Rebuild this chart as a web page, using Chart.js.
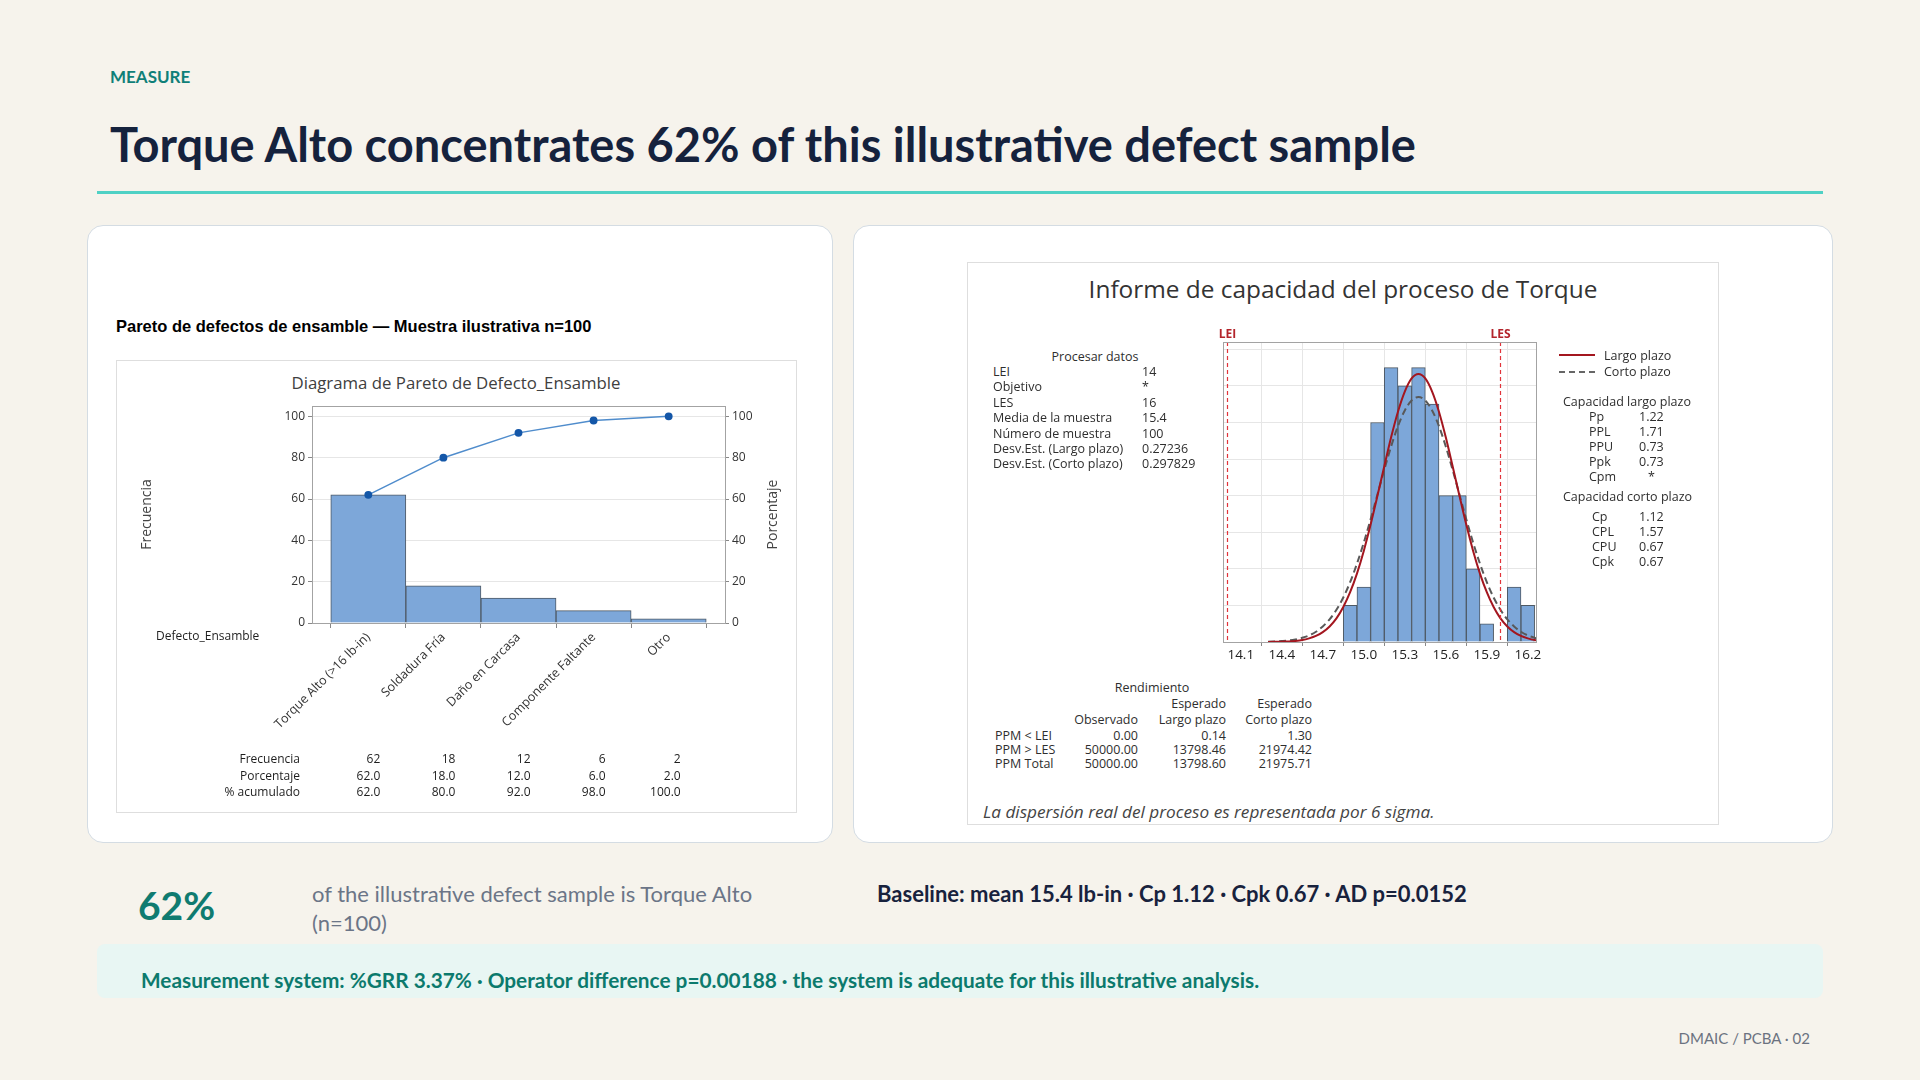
<!DOCTYPE html>
<html>
<head>
<meta charset="utf-8">
<script src="https://cdn.jsdelivr.net/npm/chart.js@4.4.1/dist/chart.umd.min.js"></script>
<style>
  body { margin: 0; width: 1920px; height: 1080px; background: #f6f3ec; position: relative; overflow: hidden; font-family: Lato, sans-serif; }
  .abs { position: absolute; white-space: nowrap; }
  .card { position: absolute; background: #fff; border: 1.5px solid #d4dce3; border-radius: 16px; box-sizing: border-box; }
  .frame { position: absolute; background: #fff; border: 1px solid #dedede; box-sizing: border-box; }
  .mt { font-family: "Open Sans", sans-serif; font-size: 12.5px; color: #2e2e2e; line-height: 16px; }
</style>
</head>
<body>

<div class="abs" style="left:110px;top:66px;font-size:17px;font-weight:700;color:#0f7f78;line-height:22px;">MEASURE</div>
<div class="abs" style="left:110px;top:116px;font-size:47px;font-weight:700;color:#15223d;line-height:56px;">Torque Alto concentrates 62% of this illustrative defect sample</div>
<div class="abs" style="left:97px;top:191px;width:1726px;height:3px;background:#4fd1c5;"></div>

<div class="card" style="left:87px;top:225px;width:746px;height:618px;"></div>
<div class="card" style="left:853px;top:225px;width:980px;height:618px;"></div>

<div class="abs" style="left:116px;top:315px;font-family:'Liberation Sans',Arial,sans-serif;font-size:16.5px;font-weight:700;color:#000;line-height:22px;">Pareto de defectos de ensamble — Muestra ilustrativa n=100</div>

<div class="frame" style="left:116px;top:360px;width:681px;height:453px;"></div>
<div class="abs" style="left:456px;top:372px;transform:translateX(-50%);font-family:'Open Sans',sans-serif;font-size:16.8px;color:#404040;line-height:22px;">Diagrama de Pareto de Defecto_Ensamble</div>
<canvas id="pareto" width="681" height="453" style="position:absolute;left:116px;top:360px;width:681px;height:453px;"></canvas>

<div class="frame" style="left:967px;top:262px;width:752px;height:563px;"></div>
<div class="abs" style="left:1343px;top:274px;transform:translateX(-50%);font-family:'Open Sans',sans-serif;font-size:24.4px;color:#333;line-height:30px;">Informe de capacidad del proceso de Torque</div>
<canvas id="hist" width="370" height="360" style="position:absolute;left:1190px;top:320px;width:370px;height:360px;"></canvas>
<div id="mtText"></div>

<div class="abs" style="left:138px;top:881px;font-size:39px;font-weight:700;color:#0f7b70;line-height:48px;">62%</div>
<div class="abs" style="left:312px;top:879px;width:490px;white-space:normal;font-size:22px;color:#6b7587;line-height:29px;">of the illustrative defect sample is Torque Alto (n=100)</div>
<div class="abs" style="left:877px;top:879px;font-size:22px;font-weight:700;color:#18223d;line-height:29px;">Baseline: mean 15.4 lb-in · Cp 1.12 · Cpk 0.67 · AD p=0.0152</div>

<div class="abs" style="left:97px;top:944px;width:1726px;height:54px;background:#e8f6f3;border-radius:8px;"></div>
<div class="abs" style="left:141px;top:966px;font-size:20.8px;font-weight:700;color:#0c7a6d;line-height:28px;">Measurement system: %GRR 3.37% · Operator difference p=0.00188 · the system is adequate for this illustrative analysis.</div>

<div class="abs" style="right:110px;top:1029px;font-size:15px;color:#6b7280;line-height:18px;">DMAIC / PCBA · 02</div>

<script>
// Pareto data
const defectos = ['Torque Alto (>16 lb-in)', 'Soldadura Fría', 'Daño en Carcasa', 'Componente Faltante', 'Otro'];
const frecuencia = [62, 18, 12, 6, 2];
const porcentaje = [62.0, 18.0, 12.0, 6.0, 2.0];
const acumulado = [62.0, 80.0, 92.0, 98.0, 100.0];
const paretoTicks = [0, 20, 40, 60, 80, 100];

// Capability histogram data (bin centres, counts)
const binCentros = [14.9, 15.0, 15.1, 15.2, 15.3, 15.4, 15.5, 15.6, 15.7, 15.8, 15.9, 16.0, 16.1, 16.2];
const binConteos = [2, 3, 12, 15, 14, 15, 13, 8, 8, 4, 1, 0, 3, 2];
const histTicks = [14.1, 14.4, 14.7, 15.0, 15.3, 15.6, 15.9, 16.2];
const histGrid = [0, 2, 4, 6, 8, 10, 12, 14, 16];
const limites = [{ label: 'LEI', value: 14 }, { label: 'LES', value: 16 }];

// fitted curves
const curvaX = [14.30, 14.35, 14.40, 14.45, 14.50, 14.55, 14.60, 14.65, 14.70, 14.75, 14.80, 14.85, 14.90, 14.95, 15.00, 15.05, 15.10, 15.15, 15.20, 15.25, 15.30, 15.35, 15.40,
  15.45, 15.50, 15.55, 15.60, 15.65, 15.70, 15.75, 15.80, 15.85, 15.90, 15.95, 16.00, 16.05, 16.10, 16.15, 16.20, 16.25, 16.30];
const largoPlazo = [0.00, 0.01, 0.02, 0.03, 0.06, 0.11, 0.20, 0.33, 0.54, 0.85, 1.29, 1.91, 2.72, 3.74, 4.98, 6.42, 7.99, 9.61, 11.19, 12.59, 13.69, 14.41, 14.65,
  14.41, 13.69, 12.59, 11.19, 9.61, 7.99, 6.42, 4.98, 3.74, 2.72, 1.91, 1.29, 0.85, 0.54, 0.33, 0.20, 0.11, 0.06];
const cortoPlazo = [0.01, 0.03, 0.05, 0.08, 0.14, 0.23, 0.36, 0.56, 0.85, 1.24, 1.76, 2.43, 3.27, 4.28, 5.43, 6.71, 8.06, 9.41, 10.69, 11.80, 12.66, 13.20, 13.39,
  13.20, 12.66, 11.80, 10.69, 9.41, 8.06, 6.71, 5.43, 4.28, 3.27, 2.43, 1.76, 1.24, 0.85, 0.56, 0.36, 0.23, 0.14];

// report text tables
const procLabels = ['LEI', 'Objetivo', 'LES', 'Media de la muestra', 'Número de muestra', 'Desv.Est. (Largo plazo)', 'Desv.Est. (Corto plazo)'];
const procValues = ['14', '*', '16', '15.4', '100', '0.27236', '0.297829'];
const ltLabels = ['Pp', 'PPL', 'PPU', 'Ppk', 'Cpm'];
const ltValues = ['1.22', '1.71', '0.73', '0.73', '*'];
const stLabels = ['Cp', 'CPL', 'CPU', 'Cpk'];
const stValues = ['1.12', '1.57', '0.67', '0.67'];
const yieldLabels = ['PPM < LEI', 'PPM > LES', 'PPM Total'];
const yieldObs = ['0.00', '50000.00', '50000.00'];
const yieldLargo = ['0.14', '13798.46', '13798.60'];
const yieldCorto = ['1.30', '21974.42', '21975.71'];

const MT_FONT = '"Open Sans", sans-serif';

const mt = document.getElementById('mtText');
function put(text, x, cy, align, extra) {
  const d = document.createElement('div');
  d.className = 'abs mt';
  d.textContent = text;
  d.style.top = (cy - 8) + 'px';
  if (align === 'r') d.style.right = (1920 - x) + 'px';
  else d.style.left = x + 'px';
  if (align === 'c') d.style.transform = 'translateX(-50%)';
  if (extra) Object.assign(d.style, extra);
  mt.appendChild(d);
}

put('Procesar datos', 1095, 357, 'c');
procLabels.forEach((t, i) => {
  put(t, 993, 372 + i * 15.4);
  put(procValues[i], 1142, 372 + i * 15.4);
});

// legend of the two fits
const l1 = document.createElement('div');
l1.className = 'abs';
Object.assign(l1.style, { left: '1559px', top: '354px', width: '36px', borderTop: '2px solid #a3161f' });
mt.appendChild(l1);
const l2 = document.createElement('div');
l2.className = 'abs';
Object.assign(l2.style, { left: '1559px', top: '371px', width: '36px', borderTop: '2px dashed #666' });
mt.appendChild(l2);
put('Largo plazo', 1604, 356);
put('Corto plazo', 1604, 372);

put('Capacidad largo plazo', 1563, 402);
ltLabels.forEach((t, i) => {
  put(t, 1589, 417 + i * 15);
  put(ltValues[i], ltValues[i] === '*' ? 1648 : 1639, 417 + i * 15);
});
put('Capacidad corto plazo', 1563, 497);
stLabels.forEach((t, i) => {
  put(t, 1592, 517 + i * 15);
  put(stValues[i], 1639, 517 + i * 15);
});

put('Rendimiento', 1152, 688, 'c');
put('Esperado', 1226, 704, 'r');
put('Esperado', 1312, 704, 'r');
put('Observado', 1138, 720, 'r');
put('Largo plazo', 1226, 720, 'r');
put('Corto plazo', 1312, 720, 'r');
yieldLabels.forEach((t, i) => {
  const y = 735.5 + i * 14.4;
  put(t, 995, y);
  put(yieldObs[i], 1138, y, 'r');
  put(yieldLargo[i], 1226, y, 'r');
  put(yieldCorto[i], 1312, y, 'r');
});
put('La dispersión real del proceso es representada por 6 sigma.', 983, 812, 'l', { fontSize: '17.2px', fontStyle: 'italic', color: '#444', lineHeight: '16px' });

// plot frame
const boxPlugin = {
  id: 'box',
  afterDraw(chart) {
    const { ctx, chartArea: a } = chart;
    ctx.save();
    ctx.strokeStyle = '#a3a3a3';
    ctx.lineWidth = 1;
    ctx.strokeRect(Math.round(a.left) + 0.5, Math.round(a.top) + 0.5, Math.round(a.right - a.left), Math.round(a.bottom - a.top));
    ctx.restore();
  }
};

// frequency table under pareto, plus the side labels
const tablePlugin = {
  id: 'paretoTable',
  afterDraw(chart) {
    const { ctx, chartArea: a } = chart;
    const x = chart.scales.x;
    const rows = [
      ['Frecuencia', frecuencia.map(v => String(v))],
      ['Porcentaje', porcentaje.map(v => v.toFixed(1))],
      ['% acumulado', acumulado.map(v => v.toFixed(1))]
    ];
    ctx.save();
    ctx.font = '12px ' + MT_FONT;
    ctx.fillStyle = '#1e1e1e';
    ctx.textBaseline = 'middle';
    rows.forEach((row, r) => {
      const y = 400 + r * 16.5;
      ctx.textAlign = 'right';
      ctx.fillText(row[0], 184, y);
      row[1].forEach((v, i) => ctx.fillText(v, x.getPixelForValue(i) + 12, y));
    });
    ctx.textAlign = 'left';
    ctx.fillText('Defecto_Ensamble', 40, 277);
    // right axis title reads bottom-to-top like the left one
    ctx.font = '14px ' + MT_FONT;
    ctx.fillStyle = '#444';
    ctx.textAlign = 'center';
    ctx.translate(657, (a.top + a.bottom) / 2);
    ctx.rotate(-Math.PI / 2);
    ctx.fillText('Porcentaje', 0, 0);
    ctx.restore();
  }
};

new Chart(document.getElementById('pareto'), {
  type: 'bar',
  data: {
    datasets: [
      {
        type: 'line',
        label: '% acumulado',
        data: acumulado.map((v, i) => ({ x: i, y: v })),
        yAxisID: 'yPct',
        borderColor: '#4f8ccc',
        borderWidth: 1.5,
        pointBackgroundColor: '#1457a8',
        pointBorderColor: '#1457a8',
        pointRadius: 3.2,
        order: 1
      },
      {
        label: 'Frecuencia',
        data: frecuencia.map((v, i) => ({ x: i, y: v })),
        yAxisID: 'y',
        backgroundColor: '#7da7d9',
        borderColor: '#4e5964',
        borderWidth: 1,
        barPercentage: 1,
        categoryPercentage: 1,
        order: 2
      }
    ]
  },
  options: {
    responsive: false,
    animation: false,
    layout: { padding: { top: 46, left: 0, right: 0, bottom: 0 } },
    plugins: { legend: { display: false }, tooltip: { enabled: false } },
    scales: {
      x: {
        type: 'linear',
        offset: false,
        min: -0.75,
        max: 4.75,
        afterBuildTicks: s => { s.ticks = defectos.map((c, i) => ({ value: i })); },
        afterFit: s => { s.height = 190; },
        ticks: {
          callback: v => defectos[v],
          minRotation: 45,
          maxRotation: 45,
          autoSkip: false,
          padding: 2,
          color: '#333',
          font: { family: MT_FONT, size: 12.5 }
        },
        grid: { drawOnChartArea: false, drawTicks: true, tickLength: 5, color: '#888' },
        border: { display: false }
      },
      y: {
        position: 'left',
        min: 0,
        max: 105,
        afterBuildTicks: s => { s.ticks = paretoTicks.map(v => ({ value: v })); },
        afterFit: s => { s.width = 196; },
        ticks: { color: '#333', padding: 3, font: { family: MT_FONT, size: 12 } },
        grid: { color: '#e6e6e6', tickColor: '#888', tickLength: 4 },
        border: { display: false },
        title: { display: true, text: 'Frecuencia', color: '#444', padding: { top: 23, bottom: 0 }, font: { family: MT_FONT, size: 14 } }
      },
      yPct: {
        position: 'right',
        min: 0,
        max: 105,
        afterBuildTicks: s => { s.ticks = paretoTicks.map(v => ({ value: v })); },
        afterFit: s => { s.width = 72; },
        ticks: { color: '#333', padding: 3, font: { family: MT_FONT, size: 12 } },
        grid: { drawOnChartArea: false, tickColor: '#888', tickLength: 4 },
        border: { display: false }
      }
    }
  },
  plugins: [boxPlugin, tablePlugin]
});

// LEI / LES reference lines
const specPlugin = {
  id: 'spec',
  afterDatasetsDraw(chart) {
    const { ctx, chartArea: a, scales: { x } } = chart;
    ctx.save();
    limites.forEach(s => {
      const px = Math.round(x.getPixelForValue(s.value)) + 0.5;
      ctx.strokeStyle = '#e2333a';
      ctx.lineWidth = 1.2;
      ctx.setLineDash([4, 3]);
      ctx.beginPath();
      ctx.moveTo(px, a.top);
      ctx.lineTo(px, a.bottom);
      ctx.stroke();
      ctx.setLineDash([]);
      ctx.fillStyle = '#b3242b';
      ctx.font = 'bold 12px ' + MT_FONT;
      ctx.textAlign = 'center';
      ctx.textBaseline = 'middle';
      ctx.fillText(s.label, px, a.top - 7);
    });
    ctx.restore();
  }
};

new Chart(document.getElementById('hist'), {
  type: 'bar',
  data: {
    datasets: [
      {
        type: 'line',
        label: 'Largo plazo',
        data: curvaX.map((x, i) => ({ x: x, y: largoPlazo[i] })),
        borderColor: '#a3161f',
        borderWidth: 2,
        pointRadius: 0,
        cubicInterpolationMode: 'monotone',
        order: 1
      },
      {
        type: 'line',
        label: 'Corto plazo',
        data: curvaX.map((x, i) => ({ x: x, y: cortoPlazo[i] })),
        borderColor: '#595959',
        borderWidth: 2,
        borderDash: [7, 4],
        pointRadius: 0,
        cubicInterpolationMode: 'monotone',
        order: 2
      },
      {
        label: 'Torque',
        data: binCentros.map((x, i) => ({ x: x, y: binConteos[i] })),
        backgroundColor: '#7da7d9',
        borderColor: '#4e5964',
        borderWidth: 1,
        barPercentage: 1,
        categoryPercentage: 1,
        order: 3
      }
    ]
  },
  options: {
    responsive: false,
    animation: false,
    layout: { padding: { top: 22, left: 33, right: 24, bottom: 0 } },
    plugins: { legend: { display: false }, tooltip: { enabled: false } },
    scales: {
      x: {
        type: 'linear',
        offset: false,
        min: 13.97,
        max: 16.26,
        afterBuildTicks: s => { s.ticks = histTicks.map(v => ({ value: v })); },
        afterFit: s => { s.height = 38; },
        ticks: {
          callback: v => v.toFixed(1),
          autoSkip: false,
          maxRotation: 0,
          padding: 1,
          color: '#222',
          font: { family: MT_FONT, size: 13.5 }
        },
        grid: { color: '#e6e6e6', tickColor: '#888', tickLength: 4 },
        border: { display: false }
      },
      y: {
        min: 0,
        max: 16.4,
        afterBuildTicks: s => { s.ticks = histGrid.map(v => ({ value: v })); },
        afterFit: s => { s.width = 0; },
        ticks: { display: false },
        grid: { color: '#e6e6e6', drawTicks: false },
        border: { display: false }
      }
    }
  },
  plugins: [boxPlugin, specPlugin]
});
</script>
</body>
</html>
